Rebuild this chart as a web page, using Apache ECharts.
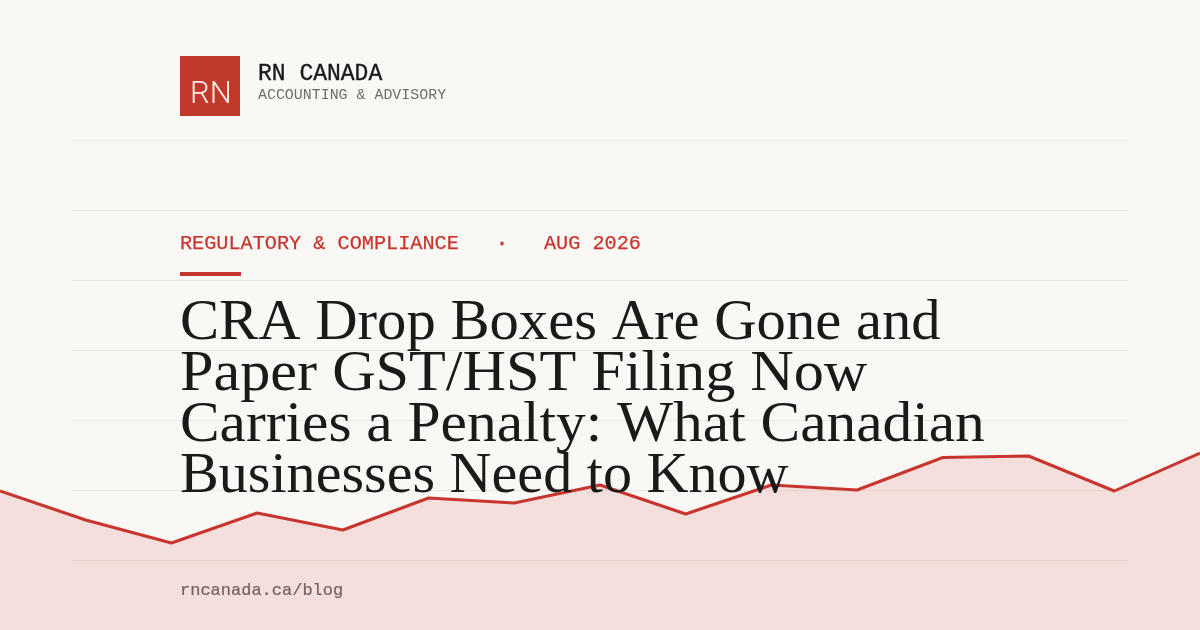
<!DOCTYPE html>
<html>
<head>
    <meta charset="utf-8">
    <title>RN Canada</title>
    <script src="https://cdn.jsdelivr.net/npm/echarts@6/dist/echarts.min.js"></script>
    <style>
        html, body { margin: 0; padding: 0; background: #faf8f5; }
    </style>
</head>
<body>
    <div id="main" style="width: 1200px;height:630px;"></div>

<script>
// values (axis runs 0-630, bottom to top)
const steps = ['1', '2', '3', '4', '5', '6', '7', '8', '9', '10', '11', '12', '13', '14', '15'];
const values = [139, 110, 87, 117, 100, 132, 127, 145, 116, 145, 140, 172.5, 174, 139, 177];
const titleLines = [
    'CRA Drop Boxes Are Gone and',
    'Paper GST/HST Filing Now',
    'Carries a Penalty: What Canadian',
    'Businesses Need to Know'
];
const MONO = '"Liberation Mono", monospace';
const SERIF = '"Liberation Serif", serif';
// stretch per title line, the original face has other widths
const titleStretch = [1.011, 1.038, 1.024, 1.002];

function label(x, y, text, font, fill, extra, thicken) {
    return Object.assign({
        type: 'text', x: x, y: y, z: 20,
        style: {
            text: text, font: font, fill: fill, textVerticalAlign: 'middle',
            stroke: thicken ? fill : null, lineWidth: thicken || 0
        }
    }, extra);
}

const myChart = echarts.init(document.getElementById('main'), null, { renderer: 'canvas' });

const RED = '#c8352e';
const graphics = [
    { type: 'rect', shape: { x: 180, y: 56, width: 60, height: 60 }, style: { fill: '#c0392b' }, z: 10 },
    label(190, 95, 'RN', '300 31px Roboto', '#fbeee9'),
    label(258, 74, 'RN CANADA', '23px ' + MONO, '#1a1a1a', {}, 0.35),
    label(258, 95, 'ACCOUNTING & ADVISORY', '15px ' + MONO, '#6f6d69', { scaleX: 0.995 }),
    label(180, 244, 'REGULATORY & COMPLIANCE', '20px ' + MONO, RED, { scaleX: 1.01 }, 0.25),
    label(496, 244, '·', '20px ' + MONO, RED, {}, 0.5),
    label(544, 244, 'AUG 2026', '20px ' + MONO, RED, { scaleX: 1.01 }, 0.25),
    { type: 'rect', shape: { x: 180, y: 272, width: 61, height: 4 }, style: { fill: RED }, z: 10 },
    label(180, 590, 'rncanada.ca/blog', '17px ' + MONO, '#75605e', {}, 0.2)
];
titleLines.forEach((line, i) => {
    graphics.push(label(180, 324 + i * 51, line, '58px ' + SERIF, '#1a1a1a', { scaleX: titleStretch[i] }));
});

myChart.setOption({
    backgroundColor: '#faf8f5',
    animation: false,
    grid: [
        { left: 0, right: 0, top: 0, bottom: 0 },
        { left: 72, right: 72, top: 140, bottom: 70 }
    ],
    xAxis: [
        { gridIndex: 0, type: 'category', data: steps, boundaryGap: false, show: false },
        { gridIndex: 1, type: 'category', data: steps, boundaryGap: false,
          axisLine: { show: false }, axisTick: { show: false }, axisLabel: { show: false } }
    ],
    yAxis: [
        { gridIndex: 0, type: 'value', min: 0, max: 630, show: false },
        { gridIndex: 1, type: 'value', min: 0, max: 420, interval: 70,
          axisLine: { show: false }, axisTick: { show: false }, axisLabel: { show: false },
          splitLine: { lineStyle: { color: '#ebe9e5', width: 1 } } }
    ],
    series: [
        { type: 'line', xAxisIndex: 1, yAxisIndex: 1, data: [], z: 1 },
        {
            type: 'line',
            xAxisIndex: 0,
            yAxisIndex: 0,
            data: values,
            symbol: 'none',
            z: 5,
            lineStyle: { color: RED, width: 3 },
            areaStyle: { color: 'rgba(215,50,45,0.12)', opacity: 1, origin: 'start' }
        }
    ],
    graphic: graphics
});
</script>
</body>
</html>
